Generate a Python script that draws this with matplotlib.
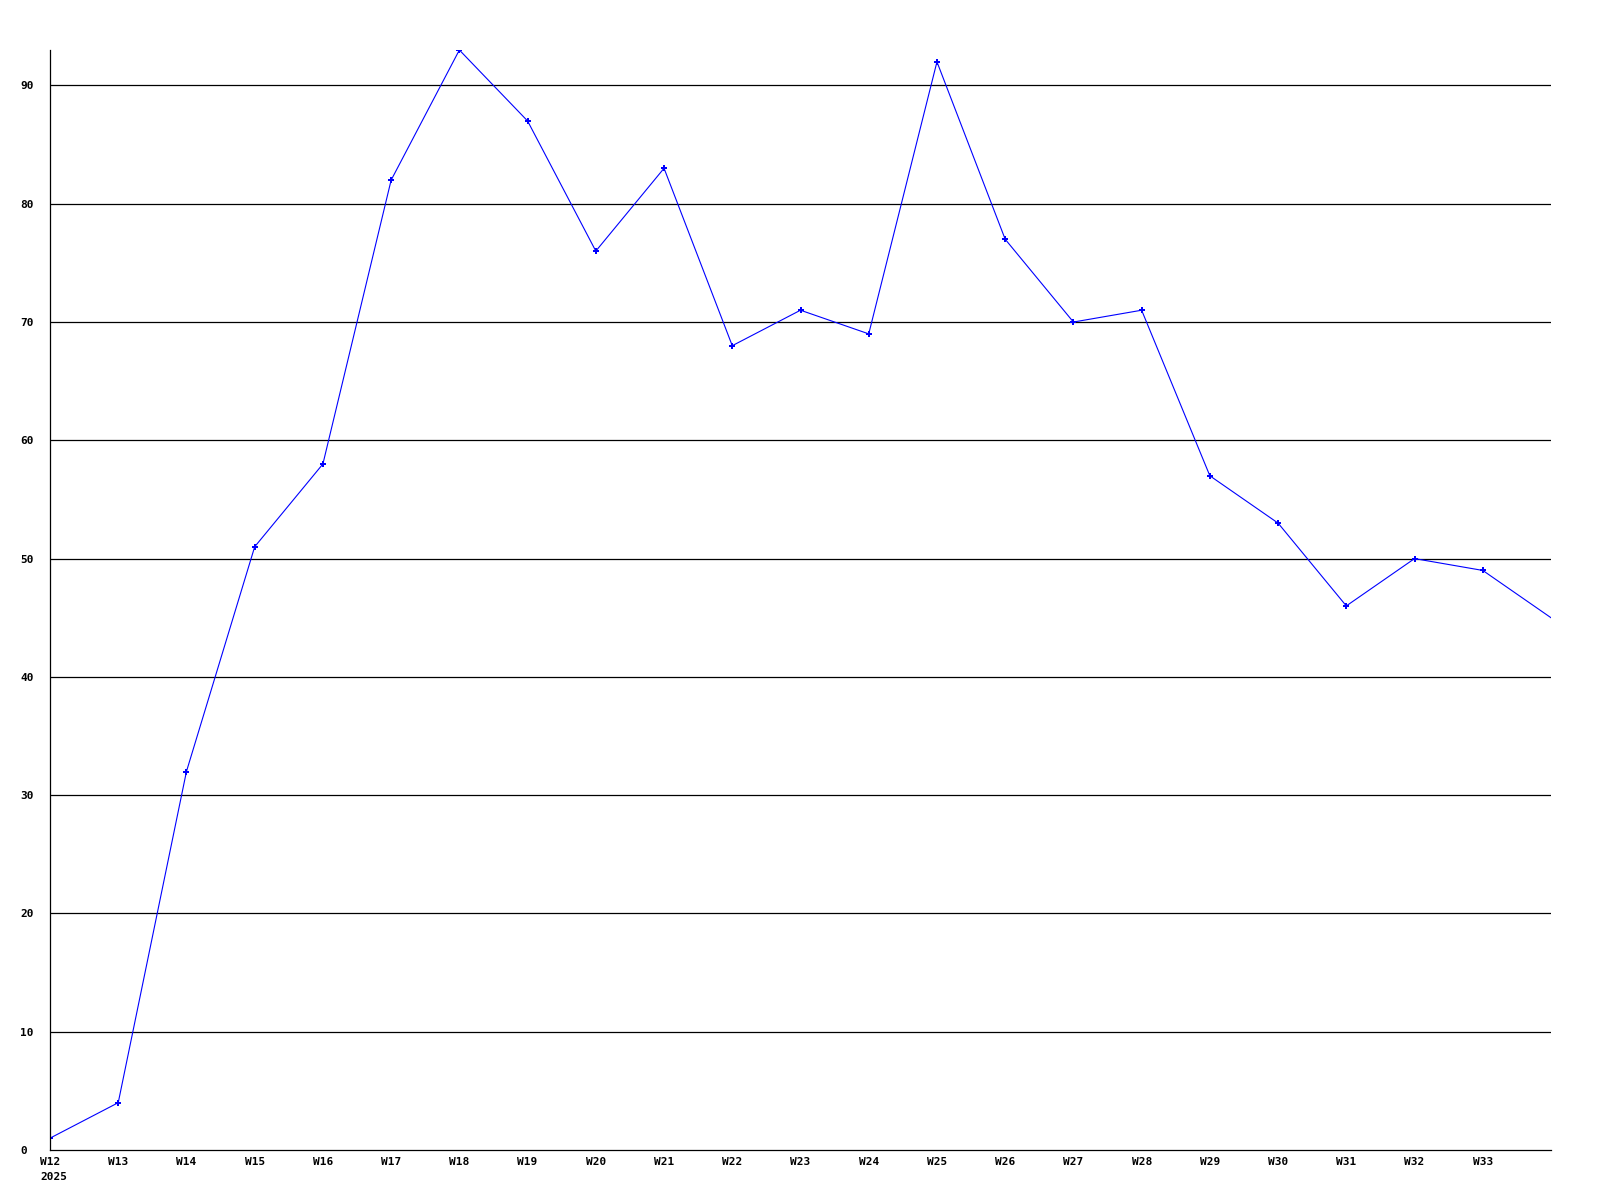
import matplotlib
matplotlib.use("Agg")
import matplotlib.pyplot as plt

weeks = ["W12", "W13", "W14", "W15", "W16", "W17", "W18", "W19", "W20", "W21", "W22",
         "W23", "W24", "W25", "W26", "W27", "W28", "W29", "W30", "W31", "W32", "W33", "W34"]
values = [1, 4, 32, 51, 58, 82, 93, 87, 76, 83, 68, 71, 69, 92, 77, 70, 71, 57, 53, 46, 50, 49, 45]
year_label = "2025"
y_ticks = [0, 10, 20, 30, 40, 50, 60, 70, 80, 90]

fig = plt.figure(figsize=(16, 12), dpi=100)
ax = fig.add_axes([50/1600, 1 - 1150/1200, (1551-50)/1600, (1150-50)/1200])

x = list(range(len(values)))
ax.plot(x, values, color=(0, 0, 1), lw=0.8, marker='P', markersize=4,
        markeredgewidth=0, markerfacecolor=(0, 0, 1),
        markevery=list(range(len(values) - 1)), clip_on=True)

ax.set_xlim(0, len(values) - 1)
ax.set_ylim(0, 93)
ax.set_yticks(y_ticks)
ax.set_yticklabels([str(t) for t in y_ticks])
ax.set_xticks(x[:-1])
ax.set_xticklabels(weeks[:-1])

for t in y_ticks[1:]:
    ax.axhline(t, color='black', lw=0.9, zorder=0)

for s in ['top', 'right']:
    ax.spines[s].set_visible(False)
for s in ['left', 'bottom']:
    ax.spines[s].set_color('black')
    ax.spines[s].set_linewidth(0.9)

font = dict(family='DejaVu Sans Mono', weight='bold', size=8)
ax.tick_params(axis='both', length=0)
ax.tick_params(axis='y', pad=21.6)
ax.tick_params(axis='x', pad=5)
for lab in ax.get_xticklabels() + ax.get_yticklabels():
    lab.set_fontfamily('DejaVu Sans Mono')
    lab.set_fontweight('bold')
    lab.set_fontsize(8)
for lab in ax.get_yticklabels():
    lab.set_horizontalalignment('left')

ax.annotate(year_label, xy=(0, 0), xycoords='data', xytext=(-10, -22),
            textcoords='offset pixels', ha='left', va='top', **font)

fig.savefig("out.png", dpi=100, facecolor='white')
